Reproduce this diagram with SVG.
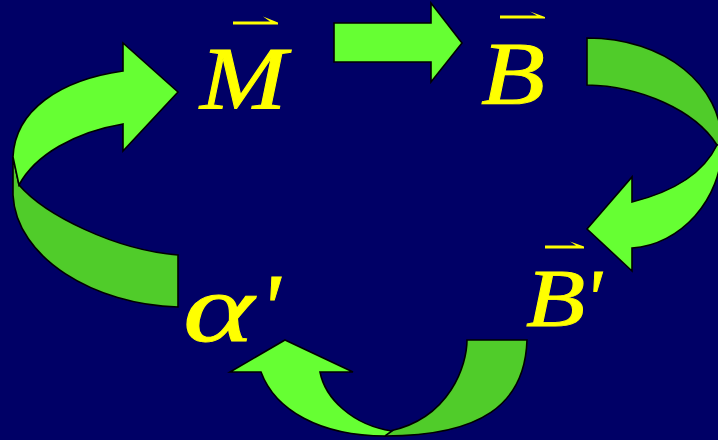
<svg xmlns="http://www.w3.org/2000/svg" width="718" height="440" viewBox="0 0 718 440">
<style>
.lbl{font-family:"Liberation Serif","Times New Roman",serif;font-style:italic;fill:#FFFF00;stroke:#FFFF00;stroke-width:0.9}
.lt{fill:#66FF33;stroke:#000;stroke-width:1.6;stroke-linejoin:miter}
.dk{fill:#50CC2A;stroke:#000;stroke-width:1.6;stroke-linejoin:miter}
.vec{fill:#FFFF00}
</style>
<rect width="718" height="440" fill="#000066"/>
<g id="connectors">
  <path class="lt" d="M334,23 L431,23 L431,3 L462,43 L431,82 L431,62 L334,62 Z"/>
  <path class="dk" d="M13,157 L13,195 C16,258 95,305 178,307 L178,255 C115,250 45,215 19,185 Z"/>
  <path class="lt" d="M13,157 C15,110 60,80 123,71 L123,43 L178,92 L123,151 L123,124 C75,132 35,155 19,185 Z"/>
  <path class="dk" d="M587,38 C665,38 722,85 722,145 L717,145 C695,110 640,86 587,85 Z"/>
  <path class="lt" d="M717,145 C705,170 680,190 632,202 L632,177 L587,229 L632,271 L632,248 C680,245 722,200 722,145 Z"/>
  <path class="dk" d="M467,340 L527,340 C525,405 480,436 385,436 L390,431 C450,418 467,365 467,340 Z"/>
  <path class="lt" d="M285,340 L353,372 L320,372 C325,398 352,425 392,431 L385,436 C320,436 275,410 261,372 L230,372 Z"/>
</g>
<g id="node-M">
  <text class="lbl" font-size="88" transform="translate(200,108) scale(1.18,1)">M</text>
  <path class="vec" d="M233,21.5 L270,21.5 L263,16.5 L278,22.5 L278,24.5 L233,24.5 Z"/>
</g>
<g id="node-B">
  <text class="lbl" font-size="88" transform="translate(481,103) scale(1.19,1)">B</text>
  <path class="vec" d="M500,15.5 L537,15.5 L530,11.5 L545,17 L545,18.5 L500,18.5 Z"/>
</g>
<g id="node-Bprime">
  <text class="lbl" font-size="82" transform="translate(526,326) scale(1.18,1)">B</text>
  <text class="lbl" font-size="82" x="584" y="326">'</text>
  <path class="vec" d="M545,245.5 L576,245.5 L570,241.5 L584,246.5 L584,248.5 L545,248.5 Z"/>
</g>
<g id="node-alpha">
  <text class="lbl" font-size="98" transform="translate(183,341) scale(1.38,1)">α</text>
  <text class="lbl" font-size="98" x="259" y="341">'</text>
</g>
</svg>
